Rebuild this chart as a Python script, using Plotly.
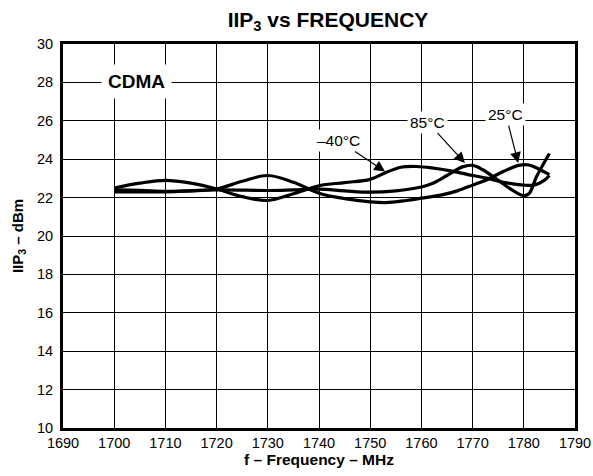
import plotly.graph_objects as go

# ---- data ----
freq_m40 = [1700, 1705, 1710, 1715, 1720, 1725, 1730, 1735, 1740, 1745, 1750, 1753, 1756, 1759, 1762, 1766, 1770, 1773, 1776, 1780, 1782, 1784, 1785]
iip3_m40 = [22.5, 22.75, 22.9, 22.75, 22.45, 22.05, 21.85, 22.2, 22.62, 22.78, 22.95, 23.3, 23.58, 23.62, 23.55, 23.38, 23.15, 23.0, 22.8, 22.65, 22.65, 22.9, 23.15]

freq_25 = [1700, 1705, 1710, 1715, 1720, 1725, 1730, 1735, 1740, 1745, 1750, 1753, 1757, 1760, 1764, 1767, 1770, 1773, 1776, 1779, 1781, 1783, 1785]
iip3_25 = [22.4, 22.38, 22.33, 22.35, 22.45, 22.85, 23.15, 22.8, 22.23, 21.95, 21.78, 21.74, 21.85, 21.97, 22.14, 22.35, 22.65, 22.96, 23.36, 23.68, 23.7, 23.48, 23.2]

freq_85 = [1700, 1710, 1720, 1730, 1735, 1740, 1745, 1750, 1755, 1760, 1762, 1765, 1768, 1770, 1772, 1775, 1778, 1780, 1781, 1782.5, 1785]
iip3_85 = [22.3, 22.3, 22.4, 22.37, 22.4, 22.44, 22.35, 22.28, 22.35, 22.55, 22.72, 23.15, 23.6, 23.68, 23.45, 22.9, 22.35, 22.1, 22.2, 23.1, 24.3]

x_ticks = [1690, 1700, 1710, 1720, 1730, 1740, 1750, 1760, 1770, 1780, 1790]
y_ticks = [10, 12, 14, 16, 18, 20, 22, 24, 26, 28, 30]

# label texts, label positions and arrow targets
labels = ["–40°C", "85°C", "25°C"]
label_f = [1743.8, 1761.2, 1776.5]
label_v = [24.97, 25.93, 26.32]
arrow_f = [1752.9, 1768.5, 1778.9]
arrow_v = [23.36, 23.8, 23.8]

FONT = "Liberation Sans, Arial, Helvetica, sans-serif"

fig = go.Figure()
for fx, vy in [(freq_m40, iip3_m40), (freq_85, iip3_85), (freq_25, iip3_25)]:
    fig.add_trace(go.Scatter(x=fx, y=vy, mode="lines",
                             line=dict(color="black", width=3.2, shape="spline", smoothing=1.0),
                             showlegend=False, hoverinfo="skip"))

annotations = []
annotations.append(dict(x=1704.45, y=28.03, xref="x", yref="y", text="<b>CDMA</b>",
                        showarrow=False, bgcolor="white", borderpad=6,
                        font=dict(family=FONT, size=19, color="black")))
for t, lf, lv, af, av in zip(labels, label_f, label_v, arrow_f, arrow_v):
    annotations.append(dict(x=af, y=av, xref="x", yref="y", ax=lf, ay=lv,
                            axref="x", ayref="y", text=t, showarrow=True,
                            arrowhead=2, arrowsize=1.8, arrowwidth=1.2, arrowcolor="black",
                            bgcolor="white", borderpad=2, standoff=0,
                            font=dict(family=FONT, size=15.5, color="black")))

fig.update_layout(
    width=593, height=476,
    margin=dict(l=63, r=18, t=44, b=48, autoexpand=False),
    paper_bgcolor="white", plot_bgcolor="white",
    font=dict(family=FONT, color="black"),
    title=dict(text="<b>IIP<sub>3</sub> vs FREQUENCY</b>", x=0.5176, xref="paper",
               xanchor="center", y=1 - 19.5 / 476, yref="container", yanchor="middle",
               font=dict(family=FONT, size=21, color="black")),
    annotations=annotations,
)
fig.update_xaxes(range=[1690, 1790], tickvals=x_ticks, ticktext=[str(v) for v in x_ticks],
                 showgrid=True, gridcolor="black", gridwidth=1,
                 showline=True, linecolor="black", linewidth=3, mirror=True,
                 zeroline=False, ticks="", ticklabelstandoff=0, automargin=False,
                 tickfont=dict(family=FONT, size=14.5, color="black"),
                 title=dict(text="<b>f – Frequency – MHz</b>", standoff=3,
                            font=dict(family=FONT, size=15.5, color="black")))
fig.update_yaxes(range=[10, 30], tickvals=y_ticks, ticktext=[str(v) for v in y_ticks],
                 showgrid=True, gridcolor="black", gridwidth=1,
                 showline=True, linecolor="black", linewidth=3, mirror=True,
                 zeroline=False, ticks="", ticklabelstandoff=4, automargin=False,
                 tickfont=dict(family=FONT, size=14.5, color="black"),
                 title=dict(text="<b>IIP<sub>3</sub> – dBm</b>", standoff=10,
                            font=dict(family=FONT, size=15, color="black")))

fig.write_html("out.html",
               config={"displayModeBar": False},
               post_script="document.body.style.margin='0';document.body.style.padding='0';"
                           "document.documentElement.style.overflow='hidden';")
